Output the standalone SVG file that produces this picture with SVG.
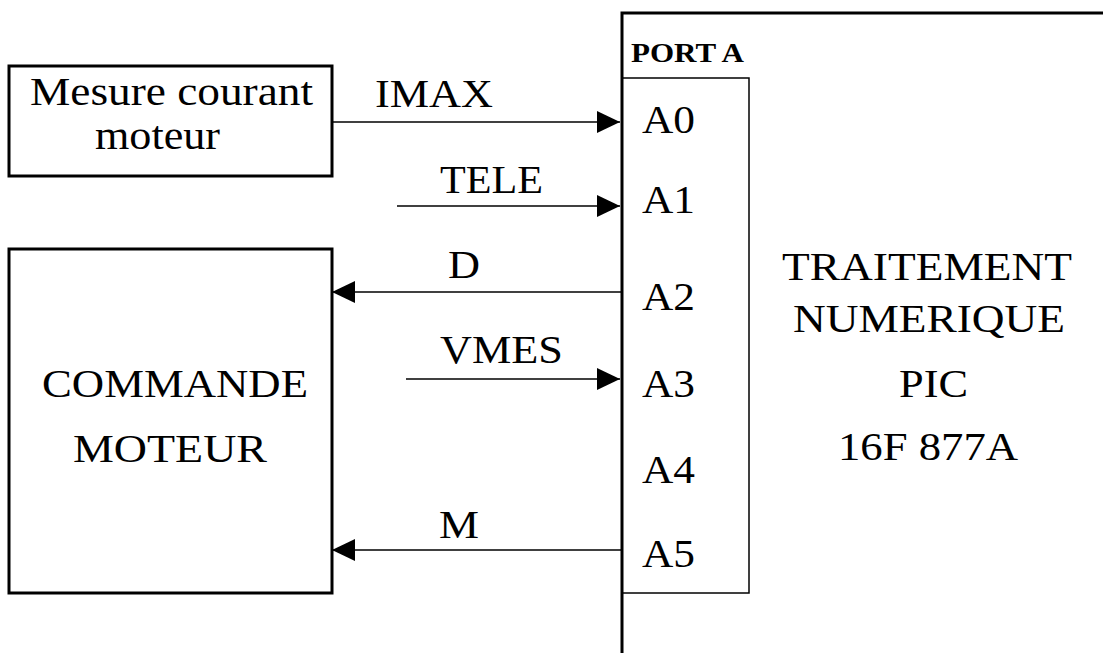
<svg xmlns="http://www.w3.org/2000/svg" width="1103" height="653" viewBox="0 0 1103 653">
<style>
.box{fill:none;stroke:#000;stroke-width:3}
.thin{fill:none;stroke:#000;stroke-width:1.5}
.t{font-family:"Liberation Serif","Times New Roman",serif;font-size:40px;fill:#000}
.b{font-family:"Liberation Serif","Times New Roman",serif;font-size:27px;font-weight:bold;fill:#000}
.ln{stroke:#000;stroke-width:1.5;fill:none}
</style>
<defs>
<marker id="ah" viewBox="0 0 23 22" refX="23" refY="11" markerWidth="23" markerHeight="22" markerUnits="userSpaceOnUse" orient="auto">
<path d="M0,0 L23,11 L0,22 Z" fill="#000"/>
</marker>
</defs>
<rect width="1103" height="653" fill="#fff"/>
<g id="mesure">
<rect class="box" x="9" y="66" width="323" height="110"/>
<text class="t" x="30" y="105" textLength="283" lengthAdjust="spacingAndGlyphs">Mesure courant</text>
<text class="t" x="95" y="149" textLength="125" lengthAdjust="spacingAndGlyphs">moteur</text>
</g>
<g id="commande">
<rect class="box" x="9" y="249" width="323" height="344"/>
<text class="t" x="42" y="397" textLength="266" lengthAdjust="spacingAndGlyphs">COMMANDE</text>
<text class="t" x="73" y="462" textLength="194" lengthAdjust="spacingAndGlyphs">MOTEUR</text>
</g>
<g id="pic">
<path class="box" d="M622,653 L622,13 L1103,13"/>
<rect class="thin" x="622" y="78" width="127" height="515"/>
<text class="b" x="631" y="62" textLength="113" lengthAdjust="spacingAndGlyphs">PORT A</text>
<text class="t" x="642" y="133" textLength="53" lengthAdjust="spacingAndGlyphs">A0</text>
<text class="t" x="642" y="213" textLength="53" lengthAdjust="spacingAndGlyphs">A1</text>
<text class="t" x="642" y="310" textLength="53" lengthAdjust="spacingAndGlyphs">A2</text>
<text class="t" x="642" y="397" textLength="53" lengthAdjust="spacingAndGlyphs">A3</text>
<text class="t" x="642" y="483" textLength="53" lengthAdjust="spacingAndGlyphs">A4</text>
<text class="t" x="642" y="567" textLength="53" lengthAdjust="spacingAndGlyphs">A5</text>
<text class="t" x="782" y="280" textLength="290" lengthAdjust="spacingAndGlyphs">TRAITEMENT</text>
<text class="t" x="793" y="332" textLength="272" lengthAdjust="spacingAndGlyphs">NUMERIQUE</text>
<text class="t" x="899" y="397" textLength="69" lengthAdjust="spacingAndGlyphs">PIC</text>
<text class="t" x="838" y="460" textLength="180" lengthAdjust="spacingAndGlyphs">16F 877A</text>
</g>
<g id="connectors">
<line class="ln" x1="332" y1="122" x2="620" y2="122" marker-end="url(#ah)"/>
<text class="t" x="375" y="107" textLength="118" lengthAdjust="spacingAndGlyphs">IMAX</text>
<line class="ln" x1="397" y1="206" x2="620" y2="206" marker-end="url(#ah)"/>
<text class="t" x="440" y="193" textLength="103" lengthAdjust="spacingAndGlyphs">TELE</text>
<line class="ln" x1="622" y1="292" x2="332" y2="292" marker-end="url(#ah)"/>
<text class="t" x="448" y="278" textLength="32" lengthAdjust="spacingAndGlyphs">D</text>
<line class="ln" x1="406" y1="379" x2="620" y2="379" marker-end="url(#ah)"/>
<text class="t" x="440" y="363" textLength="123" lengthAdjust="spacingAndGlyphs">VMES</text>
<line class="ln" x1="622" y1="550" x2="332" y2="550" marker-end="url(#ah)"/>
<text class="t" x="439" y="538" textLength="40" lengthAdjust="spacingAndGlyphs">M</text>
</g>
</svg>
